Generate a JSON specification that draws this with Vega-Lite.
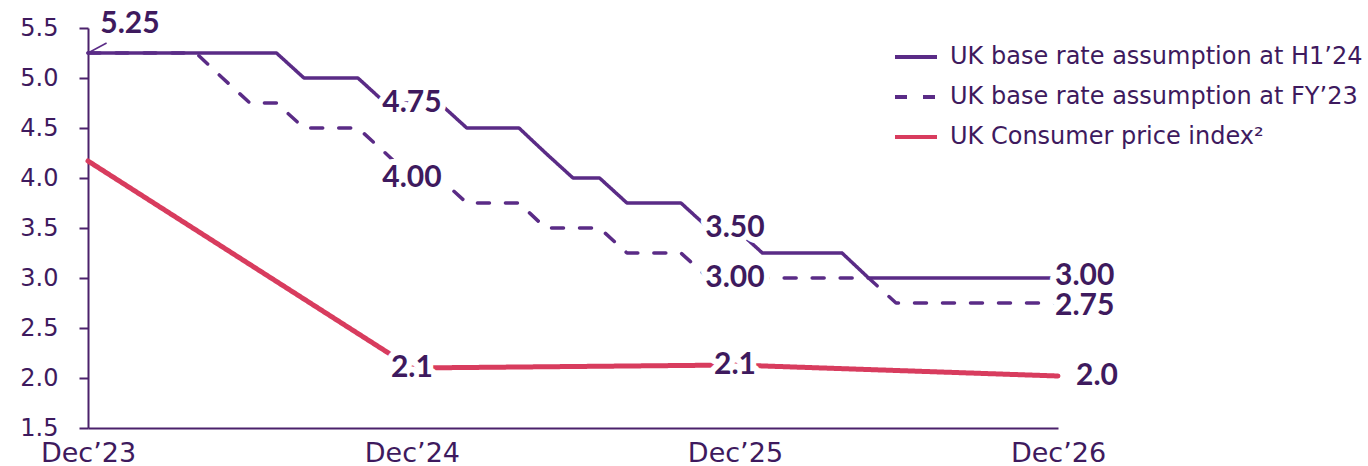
{
  "$schema": "https://vega.github.io/schema/vega-lite/v6.json",
  "width": 970,
  "height": 400,
  "autosize": {"type": "none"},
  "padding": {"left": 88, "top": 28, "right": 310, "bottom": 38},
  "background": "white",
  "config": {
    "view": {"stroke": null},
    "axis": {"grid": false, "title": null, "labelColor": "#3e1a5e", "domainColor": "#4b216b", "tickColor": "#4b216b", "domainWidth": 2, "tickWidth": 2}
  },
  "datasets": {
    "series": [
      {"date": "2023-12-01", "series": "UK base rate assumption at H1’24", "value": 5.25},
      {"date": "2024-01-01", "series": "UK base rate assumption at H1’24", "value": 5.25},
      {"date": "2024-02-01", "series": "UK base rate assumption at H1’24", "value": 5.25},
      {"date": "2024-03-01", "series": "UK base rate assumption at H1’24", "value": 5.25},
      {"date": "2024-04-01", "series": "UK base rate assumption at H1’24", "value": 5.25},
      {"date": "2024-05-01", "series": "UK base rate assumption at H1’24", "value": 5.25},
      {"date": "2024-06-01", "series": "UK base rate assumption at H1’24", "value": 5.25},
      {"date": "2024-07-01", "series": "UK base rate assumption at H1’24", "value": 5.25},
      {"date": "2024-08-01", "series": "UK base rate assumption at H1’24", "value": 5.0},
      {"date": "2024-09-01", "series": "UK base rate assumption at H1’24", "value": 5.0},
      {"date": "2024-10-01", "series": "UK base rate assumption at H1’24", "value": 5.0},
      {"date": "2024-11-01", "series": "UK base rate assumption at H1’24", "value": 4.75},
      {"date": "2024-12-01", "series": "UK base rate assumption at H1’24", "value": 4.75},
      {"date": "2025-01-01", "series": "UK base rate assumption at H1’24", "value": 4.75},
      {"date": "2025-02-01", "series": "UK base rate assumption at H1’24", "value": 4.5},
      {"date": "2025-03-01", "series": "UK base rate assumption at H1’24", "value": 4.5},
      {"date": "2025-04-01", "series": "UK base rate assumption at H1’24", "value": 4.5},
      {"date": "2025-05-01", "series": "UK base rate assumption at H1’24", "value": 4.25},
      {"date": "2025-06-01", "series": "UK base rate assumption at H1’24", "value": 4.0},
      {"date": "2025-07-01", "series": "UK base rate assumption at H1’24", "value": 4.0},
      {"date": "2025-08-01", "series": "UK base rate assumption at H1’24", "value": 3.75},
      {"date": "2025-09-01", "series": "UK base rate assumption at H1’24", "value": 3.75},
      {"date": "2025-10-01", "series": "UK base rate assumption at H1’24", "value": 3.75},
      {"date": "2025-11-01", "series": "UK base rate assumption at H1’24", "value": 3.5},
      {"date": "2025-12-01", "series": "UK base rate assumption at H1’24", "value": 3.5},
      {"date": "2026-01-01", "series": "UK base rate assumption at H1’24", "value": 3.25},
      {"date": "2026-02-01", "series": "UK base rate assumption at H1’24", "value": 3.25},
      {"date": "2026-03-01", "series": "UK base rate assumption at H1’24", "value": 3.25},
      {"date": "2026-04-01", "series": "UK base rate assumption at H1’24", "value": 3.25},
      {"date": "2026-05-01", "series": "UK base rate assumption at H1’24", "value": 3.0},
      {"date": "2026-06-01", "series": "UK base rate assumption at H1’24", "value": 3.0},
      {"date": "2026-07-01", "series": "UK base rate assumption at H1’24", "value": 3.0},
      {"date": "2026-08-01", "series": "UK base rate assumption at H1’24", "value": 3.0},
      {"date": "2026-09-01", "series": "UK base rate assumption at H1’24", "value": 3.0},
      {"date": "2026-10-01", "series": "UK base rate assumption at H1’24", "value": 3.0},
      {"date": "2026-11-01", "series": "UK base rate assumption at H1’24", "value": 3.0},
      {"date": "2026-12-01", "series": "UK base rate assumption at H1’24", "value": 3.0},
      {"date": "2023-12-01", "series": "UK base rate assumption at FY’23", "value": 5.25},
      {"date": "2024-01-01", "series": "UK base rate assumption at FY’23", "value": 5.25},
      {"date": "2024-02-01", "series": "UK base rate assumption at FY’23", "value": 5.25},
      {"date": "2024-03-01", "series": "UK base rate assumption at FY’23", "value": 5.25},
      {"date": "2024-04-01", "series": "UK base rate assumption at FY’23", "value": 5.25},
      {"date": "2024-05-01", "series": "UK base rate assumption at FY’23", "value": 5.0},
      {"date": "2024-06-01", "series": "UK base rate assumption at FY’23", "value": 4.75},
      {"date": "2024-07-01", "series": "UK base rate assumption at FY’23", "value": 4.75},
      {"date": "2024-08-01", "series": "UK base rate assumption at FY’23", "value": 4.5},
      {"date": "2024-09-01", "series": "UK base rate assumption at FY’23", "value": 4.5},
      {"date": "2024-10-01", "series": "UK base rate assumption at FY’23", "value": 4.5},
      {"date": "2024-11-01", "series": "UK base rate assumption at FY’23", "value": 4.25},
      {"date": "2024-12-01", "series": "UK base rate assumption at FY’23", "value": 4.0},
      {"date": "2025-01-01", "series": "UK base rate assumption at FY’23", "value": 4.0},
      {"date": "2025-02-01", "series": "UK base rate assumption at FY’23", "value": 3.75},
      {"date": "2025-03-01", "series": "UK base rate assumption at FY’23", "value": 3.75},
      {"date": "2025-04-01", "series": "UK base rate assumption at FY’23", "value": 3.75},
      {"date": "2025-05-01", "series": "UK base rate assumption at FY’23", "value": 3.5},
      {"date": "2025-06-01", "series": "UK base rate assumption at FY’23", "value": 3.5},
      {"date": "2025-07-01", "series": "UK base rate assumption at FY’23", "value": 3.5},
      {"date": "2025-08-01", "series": "UK base rate assumption at FY’23", "value": 3.25},
      {"date": "2025-09-01", "series": "UK base rate assumption at FY’23", "value": 3.25},
      {"date": "2025-10-01", "series": "UK base rate assumption at FY’23", "value": 3.25},
      {"date": "2025-11-01", "series": "UK base rate assumption at FY’23", "value": 3.0},
      {"date": "2025-12-01", "series": "UK base rate assumption at FY’23", "value": 3.0},
      {"date": "2026-01-01", "series": "UK base rate assumption at FY’23", "value": 3.0},
      {"date": "2026-02-01", "series": "UK base rate assumption at FY’23", "value": 3.0},
      {"date": "2026-03-01", "series": "UK base rate assumption at FY’23", "value": 3.0},
      {"date": "2026-04-01", "series": "UK base rate assumption at FY’23", "value": 3.0},
      {"date": "2026-05-01", "series": "UK base rate assumption at FY’23", "value": 3.0},
      {"date": "2026-06-01", "series": "UK base rate assumption at FY’23", "value": 2.75},
      {"date": "2026-07-01", "series": "UK base rate assumption at FY’23", "value": 2.75},
      {"date": "2026-08-01", "series": "UK base rate assumption at FY’23", "value": 2.75},
      {"date": "2026-09-01", "series": "UK base rate assumption at FY’23", "value": 2.75},
      {"date": "2026-10-01", "series": "UK base rate assumption at FY’23", "value": 2.75},
      {"date": "2026-11-01", "series": "UK base rate assumption at FY’23", "value": 2.75},
      {"date": "2026-12-01", "series": "UK base rate assumption at FY’23", "value": 2.75}
    ],
    "cpi": [
      {"date": "2023-12-01", "series": "UK Consumer price index²", "value": 4.17},
      {"date": "2024-12-01", "series": "UK Consumer price index²", "value": 2.1},
      {"date": "2025-12-01", "series": "UK Consumer price index²", "value": 2.13},
      {"date": "2026-12-01", "series": "UK Consumer price index²", "value": 2.02}
    ],
    "midLabels": [
      {"date": "2024-12-01", "value": 4.75, "text": "4.75"},
      {"date": "2024-12-01", "value": 4.0, "text": "4.00"},
      {"date": "2025-12-01", "value": 3.5, "text": "3.50"},
      {"date": "2025-12-01", "value": 3.0, "text": "3.00"},
      {"date": "2024-12-01", "value": 2.1, "text": "2.1"},
      {"date": "2025-12-01", "value": 2.13, "text": "2.1"}
    ],
    "endUpper": [
      {"date": "2026-12-01", "value": 3.0, "text": "3.00"}
    ],
    "endLower": [
      {"date": "2026-12-01", "value": 2.75, "text": "2.75"}
    ],
    "cpiEnd": [
      {"date": "2026-12-01", "value": 2.02, "text": "2.0"}
    ],
    "startLabel": [
      {"date": "2023-12-01", "value": 5.25, "text": "5.25", "date2": "2023-12-22", "value2": 5.35}
    ]
  },
  "layer": [
    {
      "data": {"name": "series"},
      "mark": {"type": "line", "strokeCap": "round", "strokeJoin": "round", "strokeWidth": 3.5},
      "encoding": {
        "x": {
          "field": "date", "type": "temporal",
          "scale": {"type": "utc", "domain": [{"year": 2023, "month": 12, "date": 1, "utc": true}, {"year": 2026, "month": 12, "date": 1, "utc": true}], "nice": false},
          "axis": {
            "values": [
              {"year": 2023, "month": 12, "date": 1, "utc": true},
              {"year": 2024, "month": 12, "date": 1, "utc": true},
              {"year": 2025, "month": 12, "date": 1, "utc": true},
              {"year": 2026, "month": 12, "date": 1, "utc": true}
            ],
            "format": "%b’%y",
            "ticks": false,
            "labelFont": "DejaVu Sans",
            "labelFontSize": 27,
            "labelPadding": 12,
            "labelFlush": false,
            "labelOverlap": false
          }
        },
        "y": {
          "field": "value", "type": "quantitative",
          "scale": {"domain": [1.5, 5.5], "nice": false, "zero": false},
          "axis": {
            "values": [1.5, 2.0, 2.5, 3.0, 3.5, 4.0, 4.5, 5.0, 5.5],
            "format": ".1f",
            "tickSize": 9,
            "labelFont": "DejaVu Sans",
            "labelFontSize": 24,
            "labelPadding": 21
          }
        },
        "color": {
          "field": "series", "type": "nominal",
          "scale": {
            "domain": ["UK base rate assumption at H1’24", "UK base rate assumption at FY’23", "UK Consumer price index²"],
            "range": ["#5a2b86", "#5a2b86", "#d83c5e"]
          },
          "legend": {
            "title": null,
            "orient": "none",
            "legendX": 805,
            "legendY": 9,
            "padding": 0,
            "symbolType": "stroke",
            "symbolSize": 1764,
            "symbolStrokeWidth": 4,
            "labelFont": "DejaVu Sans",
            "labelFontSize": 24,
            "labelColor": "#3e1a5e",
            "labelOffset": 11,
            "labelLimit": 600,
            "clipHeight": 40,
            "rowPadding": 0
          }
        },
        "strokeDash": {
          "field": "series", "type": "nominal",
          "scale": {
            "domain": ["UK base rate assumption at H1’24", "UK base rate assumption at FY’23", "UK Consumer price index²"],
            "range": [[1, 0], [12, 16], [1, 0]]
          }
        }
      }
    },
    {
      "data": {"name": "cpi"},
      "mark": {"type": "line", "strokeCap": "round", "strokeJoin": "round", "strokeWidth": 5},
      "encoding": {
        "x": {"field": "date", "type": "temporal"},
        "y": {"field": "value", "type": "quantitative"},
        "color": {"field": "series", "type": "nominal"},
        "strokeDash": {"field": "series", "type": "nominal"}
      }
    },
    {
      "data": {"name": "midLabels"},
      "mark": {"type": "text", "font": "Lato", "fontWeight": "bold", "fontSize": 30, "align": "center", "baseline": "middle", "stroke": "white", "strokeWidth": 12, "strokeJoin": "round", "fill": "white"},
      "encoding": {
        "x": {"field": "date", "type": "temporal"},
        "y": {"field": "value", "type": "quantitative"},
        "text": {"field": "text"}
      }
    },
    {
      "data": {"name": "endUpper"},
      "mark": {"type": "text", "font": "Lato", "fontWeight": "bold", "fontSize": 30, "align": "left", "baseline": "middle", "dx": -3, "dy": -2, "stroke": "white", "strokeWidth": 12, "strokeJoin": "round", "fill": "white"},
      "encoding": {
        "x": {"field": "date", "type": "temporal"},
        "y": {"field": "value", "type": "quantitative"},
        "text": {"field": "text"}
      }
    },
    {
      "data": {"name": "endLower"},
      "mark": {"type": "text", "font": "Lato", "fontWeight": "bold", "fontSize": 30, "align": "left", "baseline": "middle", "dx": -3, "dy": 3, "stroke": "white", "strokeWidth": 12, "strokeJoin": "round", "fill": "white"},
      "encoding": {
        "x": {"field": "date", "type": "temporal"},
        "y": {"field": "value", "type": "quantitative"},
        "text": {"field": "text"}
      }
    },
    {
      "data": {"name": "midLabels"},
      "mark": {"type": "text", "font": "Lato", "fontWeight": "bold", "fontSize": 30, "align": "center", "baseline": "middle", "color": "#3e1a5e"},
      "encoding": {
        "x": {"field": "date", "type": "temporal"},
        "y": {"field": "value", "type": "quantitative"},
        "text": {"field": "text"}
      }
    },
    {
      "data": {"name": "endUpper"},
      "mark": {"type": "text", "font": "Lato", "fontWeight": "bold", "fontSize": 30, "align": "left", "baseline": "middle", "dx": -3, "dy": -2, "color": "#3e1a5e"},
      "encoding": {
        "x": {"field": "date", "type": "temporal"},
        "y": {"field": "value", "type": "quantitative"},
        "text": {"field": "text"}
      }
    },
    {
      "data": {"name": "endLower"},
      "mark": {"type": "text", "font": "Lato", "fontWeight": "bold", "fontSize": 30, "align": "left", "baseline": "middle", "dx": -3, "dy": 3, "color": "#3e1a5e"},
      "encoding": {
        "x": {"field": "date", "type": "temporal"},
        "y": {"field": "value", "type": "quantitative"},
        "text": {"field": "text"}
      }
    },
    {
      "data": {"name": "cpiEnd"},
      "mark": {"type": "text", "font": "Lato", "fontWeight": "bold", "fontSize": 30, "align": "left", "baseline": "middle", "dx": 18, "color": "#3e1a5e"},
      "encoding": {
        "x": {"field": "date", "type": "temporal"},
        "y": {"field": "value", "type": "quantitative"},
        "text": {"field": "text"}
      }
    },
    {
      "data": {"name": "startLabel"},
      "mark": {"type": "rule", "color": "#5a2b86", "strokeWidth": 1.5},
      "encoding": {
        "x": {"field": "date", "type": "temporal"},
        "y": {"field": "value", "type": "quantitative"},
        "x2": {"field": "date2"},
        "y2": {"field": "value2"}
      }
    },
    {
      "data": {"name": "startLabel"},
      "mark": {"type": "text", "font": "Lato", "fontWeight": "bold", "fontSize": 30, "align": "center", "baseline": "middle", "dx": 42, "dy": -29, "color": "#3e1a5e"},
      "encoding": {
        "x": {"field": "date", "type": "temporal"},
        "y": {"field": "value", "type": "quantitative"},
        "text": {"field": "text"}
      }
    }
  ]
}
